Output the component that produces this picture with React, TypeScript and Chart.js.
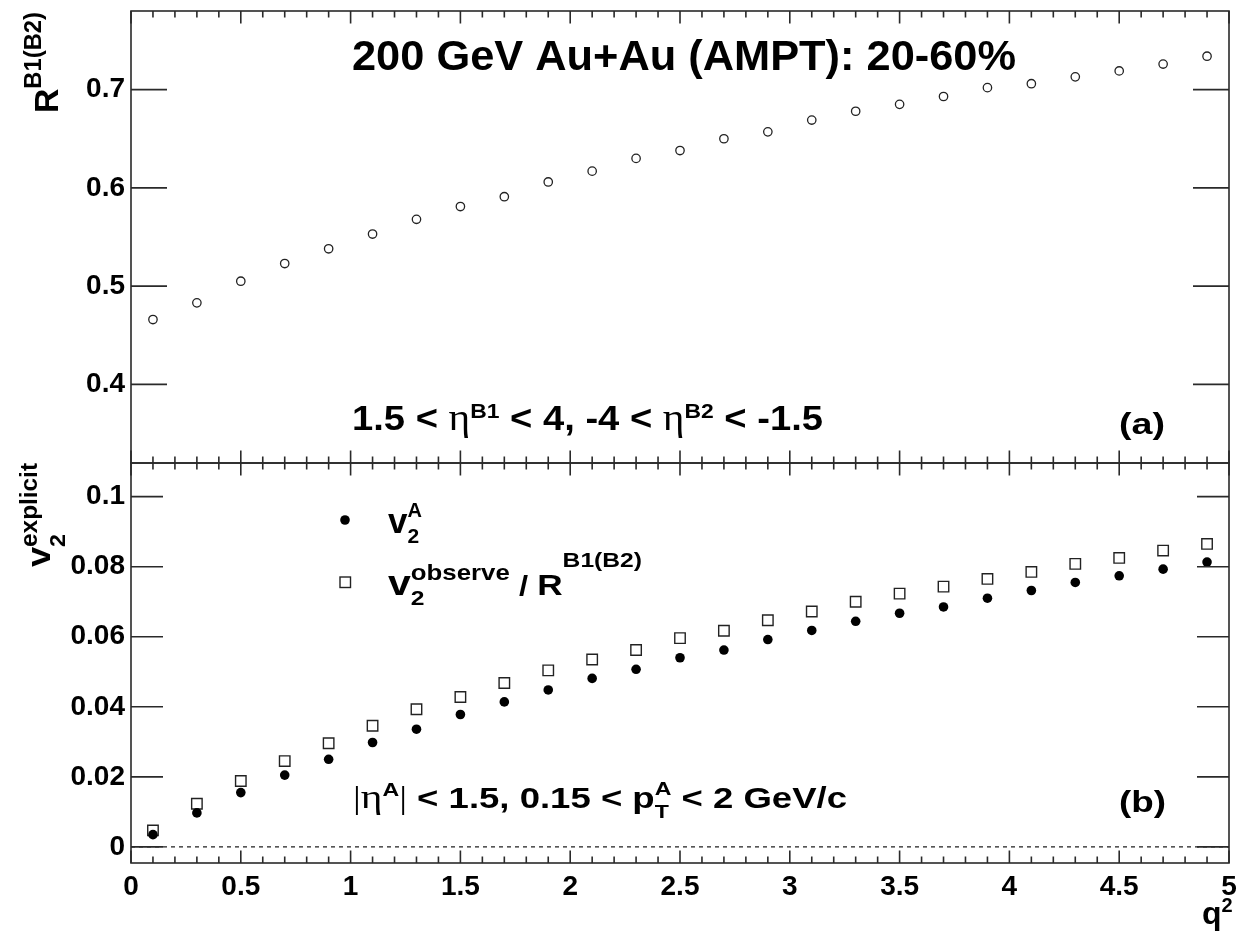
import React, { useEffect, useRef } from 'react';
import { Chart, registerables } from 'chart.js';

Chart.register(...registerables);

// ---------------- data ----------------
const Q2 = [0.1, 0.3, 0.5, 0.7, 0.9, 1.1, 1.3, 1.5, 1.7, 1.9, 2.1, 2.3, 2.5, 2.7, 2.9, 3.1, 3.3, 3.5, 3.7, 3.9, 4.1, 4.3, 4.5, 4.7, 4.9];
const R_B1B2 = [0.466, 0.483, 0.505, 0.523, 0.538, 0.553, 0.568, 0.581, 0.591, 0.606, 0.617, 0.630, 0.638, 0.650, 0.657, 0.669, 0.678, 0.685, 0.693, 0.702, 0.706, 0.713, 0.719, 0.726, 0.734];
const V2_A = [0.0035, 0.0097, 0.0155, 0.0205, 0.0250, 0.0298, 0.0336, 0.0378, 0.0414, 0.0448, 0.0481, 0.0507, 0.0540, 0.0562, 0.0592, 0.0618, 0.0644, 0.0667, 0.0685, 0.0710, 0.0732, 0.0755, 0.0774, 0.0793, 0.0813];
const V2_OBS_OVER_R = [0.0047, 0.0123, 0.0188, 0.0245, 0.0296, 0.0346, 0.0393, 0.0428, 0.0468, 0.0504, 0.0535, 0.0562, 0.0596, 0.0617, 0.0647, 0.0672, 0.0700, 0.0723, 0.0743, 0.0765, 0.0785, 0.0808, 0.0825, 0.0846, 0.0865];

const X_TICKS = [0, 0.5, 1, 1.5, 2, 2.5, 3, 3.5, 4, 4.5, 5];
const X_TICK_LABELS = ['0', '0.5', '1', '1.5', '2', '2.5', '3', '3.5', '4', '4.5', '5'];
const R_TICKS = [0.4, 0.5, 0.6, 0.7];
const R_TICK_LABELS = ['0.4', '0.5', '0.6', '0.7'];
const V2_TICKS = [0, 0.02, 0.04, 0.06, 0.08, 0.1];
const V2_TICK_LABELS = ['0', '0.02', '0.04', '0.06', '0.08', '0.1'];

// ---------------- text helpers ----------------
const SANS = '"Liberation Sans", Arial, Helvetica, sans-serif';
const SERIF = '"Liberation Serif", "DejaVu Serif", serif';

type Seg = { t: string; size: number; rise?: number; serif?: boolean; overlay?: boolean };

function fontOf(s: Seg) {
  return s.serif ? `normal ${s.size}px ${SERIF}` : `bold ${s.size}px ${SANS}`;
}

function drawRich(ctx: CanvasRenderingContext2D, segs: Seg[], x0: number, y0: number, width?: number, rotate?: boolean) {
  ctx.save();
  ctx.translate(x0, y0);
  if (rotate) ctx.rotate(-Math.PI / 2);
  ctx.textAlign = 'left';
  ctx.textBaseline = 'alphabetic';
  ctx.fillStyle = '#000';
  let x = 0, prevStart = 0, prevW = 0;
  const items: { s: Seg; x: number }[] = [];
  for (const s of segs) {
    ctx.font = fontOf(s);
    const w = ctx.measureText(s.t).width;
    if (s.overlay) {
      items.push({ s, x: prevStart });
      prevW = Math.max(prevW, w);
      x = prevStart + prevW;
    } else {
      items.push({ s, x });
      prevStart = x;
      prevW = w;
      x += w;
    }
  }
  const sx = width ? width / x : 1;
  ctx.scale(sx, 1);
  for (const it of items) {
    ctx.font = fontOf(it.s);
    ctx.fillText(it.s.t, it.x, -(it.s.rise || 0));
  }
  ctx.restore();
}

const TITLE: Seg[] = [{ t: '200 GeV Au+Au (AMPT): 20-60%', size: 43 }];
const ETA_TEXT: Seg[] = [
  { t: '1.5 < ', size: 35 },
  { t: 'η', size: 38, serif: true },
  { t: 'B1', size: 21, rise: 12 },
  { t: ' < 4, -4 < ', size: 35 },
  { t: 'η', size: 38, serif: true },
  { t: 'B2', size: 21, rise: 12 },
  { t: ' < -1.5', size: 35 },
];
const CUT_TEXT: Seg[] = [
  { t: '|', size: 32, serif: true },
  { t: 'η', size: 34, serif: true },
  { t: 'A', size: 19, rise: 12 },
  { t: '|', size: 32, serif: true },
  { t: ' < 1.5, 0.15 < ', size: 30 },
  { t: 'p', size: 30 },
  { t: 'A', size: 19, rise: 13 },
  { t: 'T', size: 19, rise: -10, overlay: true },
  { t: ' < 2 GeV/c', size: 30 },
];
const LEG1: Seg[] = [
  { t: 'v', size: 35 },
  { t: 'A', size: 20, rise: 16 },
  { t: '2', size: 21, rise: -10, overlay: true },
];
const LEG2: Seg[] = [
  { t: 'v', size: 35 },
  { t: 'observe', size: 22, rise: 15 },
  { t: '2', size: 21, rise: -10, overlay: true },
  { t: ' / ', size: 28 },
  { t: 'R', size: 30 },
  { t: 'B1(B2)', size: 21, rise: 28 },
];
const YTITLE_TOP: Seg[] = [
  { t: 'R', size: 34 },
  { t: 'B1(B2)', size: 24, rise: 17 },
];
const YTITLE_BOT: Seg[] = [
  { t: 'v', size: 34 },
  { t: 'explicit', size: 23, rise: 13 },
  { t: '2', size: 22, rise: -15, overlay: true },
];
const XTITLE: Seg[] = [
  { t: 'q', size: 32 },
  { t: '2', size: 20, rise: 12 },
];

const rootPlugin = {
  id: 'rootFrame',
  beforeDatasetsDraw(chart: any) {
    const ctx: CanvasRenderingContext2D = chart.ctx;
    const x = chart.scales.x;
    const yB = chart.scales.yB;
    const y0 = yB.getPixelForValue(0);
    ctx.save();
    ctx.strokeStyle = '#000';
    ctx.lineWidth = 1.1;
    ctx.setLineDash([4, 4]);
    ctx.beginPath();
    ctx.moveTo(x.left, y0);
    ctx.lineTo(x.right, y0);
    ctx.stroke();
    ctx.restore();
  },
  afterDatasetsDraw(chart: any) {
    const ctx: CanvasRenderingContext2D = chart.ctx;
    const x = chart.scales.x;
    const panels = [
      { s: chart.scales.yA, ticks: R_TICKS, len: 36 },
      { s: chart.scales.yB, ticks: V2_TICKS, len: 32 },
    ];
    ctx.save();
    ctx.strokeStyle = '#2a2a2a';
    ctx.lineWidth = 1.6;
    for (const p of panels) {
      const top = p.s.top;
      const bot = p.s.bottom;
      ctx.strokeRect(x.left, top, x.right - x.left, bot - top);
      ctx.beginPath();
      for (let i = 0; i <= 50; i++) {
        const px = x.getPixelForValue(i / 10);
        const L = i % 5 === 0 ? 12.5 : 6.5;
        ctx.moveTo(px, top);
        ctx.lineTo(px, top + L);
        ctx.moveTo(px, bot);
        ctx.lineTo(px, bot - L);
      }
      for (const t of p.ticks) {
        const py = p.s.getPixelForValue(t);
        ctx.moveTo(x.left, py);
        ctx.lineTo(x.left + p.len, py);
        ctx.moveTo(x.right, py);
        ctx.lineTo(x.right - p.len, py);
      }
      ctx.stroke();
    }
    ctx.restore();
  },
  afterDraw(chart: any) {
    const ctx: CanvasRenderingContext2D = chart.ctx;
    drawRich(ctx, TITLE, 352, 70, 664);
    drawRich(ctx, ETA_TEXT, 352, 430, 471);
    drawRich(ctx, [{ t: '(a)', size: 30 }], 1119, 434, 46);
    drawRich(ctx, CUT_TEXT, 353, 808, 494);
    drawRich(ctx, [{ t: '(b)', size: 30 }], 1119, 812, 47);
    // legend markers
    ctx.save();
    ctx.fillStyle = '#000';
    ctx.beginPath();
    ctx.arc(345, 520, 4.8, 0, Math.PI * 2);
    ctx.fill();
    ctx.strokeStyle = '#222';
    ctx.lineWidth = 1.4;
    ctx.strokeRect(340, 577, 10.5, 10.5);
    ctx.restore();
    drawRich(ctx, LEG1, 388, 533);
    drawRich(ctx, LEG2, 388, 595, 254);
    drawRich(ctx, YTITLE_TOP, 58, 113, 101, true);
    drawRich(ctx, YTITLE_BOT, 50, 567, 104, true);
    drawRich(ctx, XTITLE, 1202, 924);
  },
};

function noPad(s: any, w?: number, h?: number) {
  if (w !== undefined) s.width = w;
  if (h !== undefined) s.height = h;
  s.paddingTop = 0;
  s.paddingBottom = 0;
  s.paddingLeft = 0;
  s.paddingRight = 0;
}

export default function App() {
  const ref = useRef<HTMLCanvasElement | null>(null);
  useEffect(() => {
    if (!ref.current) return;
    const tickFont = { family: SANS, size: 28, weight: 'bold' as const };
    const chart = new Chart(ref.current, {
      type: 'scatter',
      data: {
        datasets: [
          {
            label: 'v2A',
            data: Q2.map((q, i) => ({ x: q, y: V2_A[i] })),
            yAxisID: 'yB',
            pointStyle: 'circle',
            pointRadius: 4.8,
            backgroundColor: '#000',
            borderColor: '#000',
            borderWidth: 0,
          },
          {
            label: 'v2obs/R',
            data: Q2.map((q, i) => ({ x: q, y: V2_OBS_OVER_R[i] })),
            yAxisID: 'yB',
            pointStyle: 'rect',
            pointRadius: 7.4,
            backgroundColor: 'rgba(0,0,0,0)',
            borderColor: '#222',
            borderWidth: 1.4,
          },
          {
            label: 'R',
            data: Q2.map((q, i) => ({ x: q, y: R_B1B2[i] })),
            yAxisID: 'yA',
            pointStyle: 'circle',
            pointRadius: 4.2,
            backgroundColor: 'rgba(0,0,0,0)',
            borderColor: '#222',
            borderWidth: 1.3,
          },
        ],
      },
      options: {
        animation: false,
        responsive: false,
        maintainAspectRatio: false,
        layout: { padding: { left: 0, top: 11, right: 15, bottom: 0 } },
        plugins: { legend: { display: false }, tooltip: { enabled: false } },
        scales: {
          x: {
            type: 'linear',
            position: 'bottom',
            min: 0,
            max: 5,
            afterBuildTicks: (s: any) => { s.ticks = X_TICKS.map((v) => ({ value: v })); },
            afterFit: (s: any) => noPad(s, undefined, 72),
            ticks: {
              font: tickFont,
              color: '#000',
              padding: 7,
              maxRotation: 0,
              autoSkip: false,
              callback: (_v: any, i: number) => X_TICK_LABELS[i],
            },
            grid: { display: false, drawTicks: false },
            border: { display: false },
          },
          yA: {
            type: 'linear',
            position: 'left',
            stack: 'panels',
            stackWeight: 452,
            weight: 2,
            min: 0.32,
            max: 0.78,
            afterBuildTicks: (s: any) => { s.ticks = R_TICKS.map((v) => ({ value: v })); },
            afterFit: (s: any) => noPad(s, 131),
            ticks: {
              font: tickFont,
              color: '#000',
              padding: 6,
              autoSkip: false,
              callback: (_v: any, i: number) => R_TICK_LABELS[i],
            },
            grid: { display: false, drawTicks: false },
            border: { display: false },
          },
          yB: {
            type: 'linear',
            position: 'left',
            stack: 'panels',
            stackWeight: 400,
            weight: 1,
            min: -0.0046,
            max: 0.1096,
            afterBuildTicks: (s: any) => { s.ticks = V2_TICKS.map((v) => ({ value: v })); },
            afterFit: (s: any) => noPad(s, 131),
            ticks: {
              font: tickFont,
              color: '#000',
              padding: 6,
              autoSkip: false,
              callback: (_v: any, i: number) => V2_TICK_LABELS[i],
            },
            grid: { display: false, drawTicks: false },
            border: { display: false },
          },
        } as any,
      },
      plugins: [rootPlugin],
    });
    return () => chart.destroy();
  }, []);
  return (
    <div style={{ position: 'absolute', left: 0, top: 0, width: 1244, height: 935, background: '#fff' }}>
      <canvas ref={ref} width={1244} height={935} style={{ width: 1244, height: 935, display: 'block' }} />
    </div>
  );
}
